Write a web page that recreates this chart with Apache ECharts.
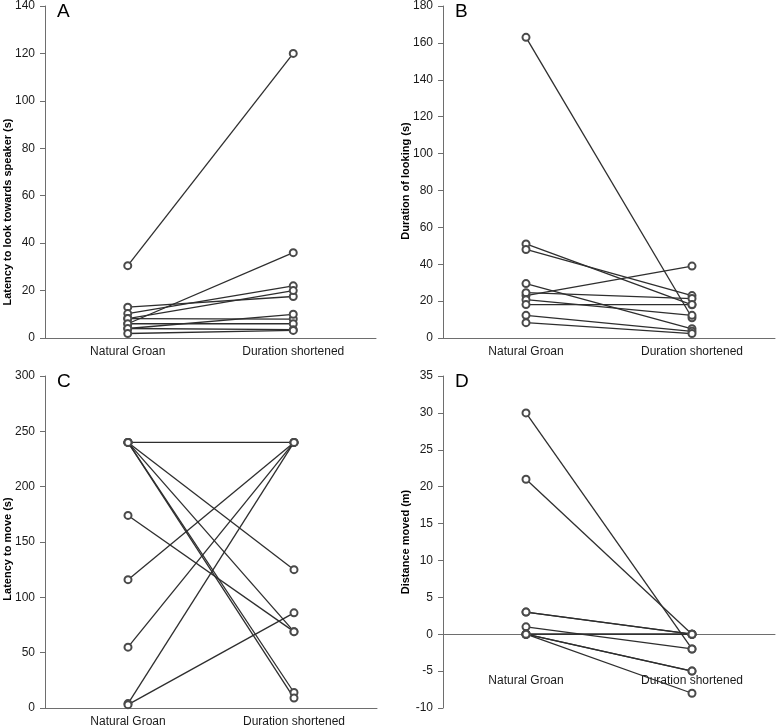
<!DOCTYPE html>
<html>
<head>
<meta charset="utf-8">
<script src="https://cdn.jsdelivr.net/npm/echarts@6/dist/echarts.min.js"></script>
<style>
  html, body { margin: 0; padding: 0; background: #fff; }
  #chart { width: 778px; height: 728px; }
</style>
</head>
<body>
<div id="chart"></div>
<script>
// categories shared by all four panels
var categories = ['Natural Groan', 'Duration shortened'];

// A - latency to look towards speaker (s), one pair per animal
var lookLatencyNatural   = [30.5, 6, 13, 10.3, 8.2, 8.2, 4, 6, 4, 1.9];
var lookLatencyShortened = [120, 36, 17.5, 22, 20, 8, 10, 6, 3.5, 3.2];

// B - duration of looking (s)
var lookDurationNatural   = [163, 51, 48, 29.5, 23, 24.6, 20.8, 18.1, 12.3, 8.3];
var lookDurationShortened = [11, 18, 23, 5, 39, 21.4, 12.3, 18.1, 3.6, 2.4];

// C - latency to move (s)
var moveLatencyNatural   = [240, 240, 240, 240, 240, 174, 116, 55, 4, 3];
var moveLatencyShortened = [240, 125, 69, 14, 9, 69, 240, 240, 240, 86];

// D - distance moved (m)
var distanceNatural   = [30, 21, 3, 3, 1, 0, 0, 0, 0, 0];
var distanceShortened = [-2, 0, 0, 0, -2, 0, -5, -5, -8, 0];

var panels = [
  { letter: 'A', natural: lookLatencyNatural, shortened: lookLatencyShortened,
    yName: 'Latency to look towards speaker (s)', min: 0, max: 140, interval: 20,
    grid: { left: 45, top: 6, width: 331, height: 332 }, labelMargin: 8, namePad: 80 },
  { letter: 'B', natural: lookDurationNatural, shortened: lookDurationShortened,
    yName: 'Duration of looking (s)', min: 0, max: 180, interval: 20,
    grid: { left: 443, top: 6, width: 332, height: 332 }, labelMargin: 8, namePad: 18 },
  { letter: 'C', natural: moveLatencyNatural, shortened: moveLatencyShortened,
    yName: 'Latency to move (s)', min: 0, max: 300, interval: 50,
    grid: { left: 45, top: 376, width: 332, height: 332 }, labelMargin: 8, namePad: 14 },
  { letter: 'D', natural: distanceNatural, shortened: distanceShortened,
    yName: 'Distance moved (m)', min: -10, max: 35, interval: 5,
    grid: { left: 443, top: 376, width: 332, height: 332 }, labelMargin: 40, namePad: 0 }
];

var axisColor = '#6e6e6e';
var lineColor = '#2e2e2e';
var font = 'Liberation Sans, Arial, sans-serif';

var chart = echarts.init(document.getElementById('chart'));

var grids = [], xAxes = [], yAxes = [], series = [], titles = [];

panels.forEach(function (p, i) {
  grids.push(Object.assign({ outerBoundsMode: 'none', containLabel: false }, p.grid));
  titles.push({
    text: p.letter,
    left: p.grid.left + 12,
    top: p.grid.top - 4,
    padding: 0,
    textStyle: { fontSize: 19, fontWeight: 'normal', color: '#000', fontFamily: font }
  });
  // x axis sits on y = 0; move it there by an offset from the grid bottom
  var zeroOffset = p.min < 0 ? -p.grid.height * (0 - p.min) / (p.max - p.min) : 0;
  xAxes.push({
    type: 'category',
    gridIndex: i,
    data: categories,
    position: 'bottom',
    offset: zeroOffset,
    axisLine: { onZero: false, lineStyle: { color: axisColor, width: 1 } },
    axisTick: { length: 4, lineStyle: { color: axisColor } },
    axisLabel: { margin: p.labelMargin, fontSize: 12, color: '#1a1a1a', fontFamily: font }
  });
  yAxes.push({
    type: 'value',
    gridIndex: i,
    min: p.min,
    max: p.max,
    interval: p.interval,
    name: p.yName,
    nameLocation: 'middle',
    nameGap: 32,
    nameMoveOverlap: false,
    nameTextStyle: {
      fontSize: 11, fontWeight: 'bold', color: '#000', fontFamily: font,
      padding: [0, p.namePad, 0, 0]
    },
    splitLine: { show: false },
    axisLine: { show: true, lineStyle: { color: axisColor, width: 1 } },
    axisTick: { show: true, length: 5, lineStyle: { color: axisColor } },
    axisLabel: { margin: 10, fontSize: 12, color: '#1a1a1a', fontFamily: font }
  });
  for (var k = 0; k < p.natural.length; k++) {
    series.push({
      type: 'line',
      xAxisIndex: i,
      yAxisIndex: i,
      data: [p.natural[k], p.shortened[k]],
      symbol: 'emptyCircle',
      symbolSize: 7,
      showSymbol: true,
      lineStyle: { color: lineColor, width: 1.3 },
      itemStyle: { color: '#4a4a4a', borderWidth: 1.4 },
      emphasis: { disabled: true }
    });
  }
});

var option = {
  animation: false,
  backgroundColor: '#fff',
  title: titles,
  grid: grids,
  xAxis: xAxes,
  yAxis: yAxes,
  series: series
};

chart.setOption(option);
</script>
</body>
</html>
